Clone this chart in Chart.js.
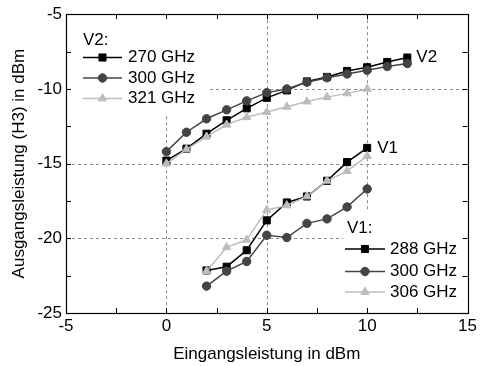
<!DOCTYPE html>
<html>
<head>
<meta charset="utf-8">
<script src="https://cdn.jsdelivr.net/npm/chart.js@4/dist/chart.umd.min.js"></script>
<style>
  html, body { margin: 0; padding: 0; background: #fff; }
  #wrap { width: 480px; height: 366px; }
</style>
</head>
<body>
<div id="wrap"><canvas id="c" width="480" height="366"></canvas></div>
<script>
// Input power (dBm) for each amplifier chain
const inputV2 = [0, 1, 2, 3, 4, 5, 6, 7, 8, 9, 10, 11, 12];
const inputV2_321 = [0, 1, 2, 3, 4, 5, 6, 7, 8, 9, 10];
const inputV1 = [2, 3, 4, 5, 6, 7, 8, 9, 10];

// Third-harmonic output power (dBm)
const v2_270 = [-14.8, -14.0, -13.0, -12.1, -11.3, -10.6, -10.1, -9.5, -9.2, -8.8, -8.55, -8.2, -7.9];
const v2_300 = [-14.2, -12.9, -12.0, -11.4, -10.8, -10.25, -10.0, -9.55, -9.25, -9.0, -8.75, -8.5, -8.3];
const v2_321 = [-15.0, -14.05, -13.2, -12.4, -11.9, -11.55, -11.2, -10.85, -10.55, -10.3, -10.0];
const v1_288 = [-22.15, -21.9, -20.8, -18.8, -17.6, -17.2, -16.15, -14.9, -13.95];
const v1_300 = [-23.2, -22.2, -21.55, -19.8, -19.95, -19.0, -18.7, -17.9, -16.7];
const v1_306 = [-22.2, -20.6, -20.1, -18.1, -17.8, -17.2, -16.15, -15.5, -14.5];

// Legend entries
const legendV2 = ['270 GHz', '300 GHz', '321 GHz'];
const legendV1 = ['288 GHz', '300 GHz', '306 GHz'];

const FONT = '"Liberation Sans", Arial, Helvetica, sans-serif';
const BLACK = '#000000';
const DARK = '#444444';
const LIGHT = '#bdbdbd';

const styles = [
  { color: BLACK, pointStyle: 'rect', radius: 5, order: 3 },
  { color: DARK, pointStyle: 'circle', radius: 4.2, order: 2 },
  { color: LIGHT, pointStyle: 'triangle', radius: 4.8, order: 1 }
];

function pts(xs, ys) { return xs.map((x, i) => ({ x: x, y: ys[i] })); }

function ds(label, xs, ys, st) {
  return {
    label: label,
    data: pts(xs, ys),
    borderColor: st.color,
    backgroundColor: st.color,
    pointBackgroundColor: st.color,
    pointBorderColor: st.color,
    pointBorderWidth: 1,
    pointStyle: st.pointStyle,
    pointRadius: st.radius,
    borderWidth: 1.5,
    order: st.order,
    tension: 0
  };
}

const datasets = [
  ds('V2 270 GHz', inputV2, v2_270, styles[0]),
  ds('V2 300 GHz', inputV2, v2_300, styles[1]),
  ds('V2 321 GHz', inputV2_321, v2_321, styles[2]),
  ds('V1 288 GHz', inputV1, v1_288, styles[0]),
  ds('V1 300 GHz', inputV1, v1_300, styles[1]),
  ds('V1 306 GHz', inputV1, v1_306, styles[2])
];

// Regions that the two legends occupy (white background over the grid)
const boxV2 = { x0: 66, y0: 13, x1: 207, y1: 113 };
const boxV1 = { x0: 343, y0: 210, x1: 470, y1: 313 };

function marker(ctx, st, x, y) {
  ctx.save();
  ctx.fillStyle = st.color;
  ctx.strokeStyle = st.color;
  ctx.lineWidth = 1;
  Chart.helpers.drawPoint(ctx, { pointStyle: st.pointStyle, radius: st.radius, borderWidth: 1 }, x, y);
  ctx.restore();
}

function drawLegend(ctx, title, names, tx, ty, lx0, lx1, rows, textX) {
  ctx.save();
  ctx.font = '17px ' + FONT;
  ctx.textBaseline = 'middle';
  ctx.textAlign = 'left';
  ctx.fillStyle = '#000';
  ctx.fillText(title, tx, ty);
  names.forEach((n, i) => {
    const st = styles[i];
    ctx.strokeStyle = st.color;
    ctx.lineWidth = 1.5;
    ctx.beginPath();
    ctx.moveTo(lx0, rows[i]);
    ctx.lineTo(lx1, rows[i]);
    ctx.stroke();
    marker(ctx, st, (lx0 + lx1) / 2, rows[i]);
    ctx.fillStyle = '#000';
    ctx.fillText(n, textX, rows[i]);
  });
  ctx.restore();
}

const frame = {
  id: 'frame',
  beforeDatasetsDraw(chart) {
    const { ctx, chartArea: a, scales: { x, y } } = chart;
    ctx.save();
    ctx.strokeStyle = '#8a8a8a';
    ctx.lineWidth = 1;
    ctx.setLineDash([3, 3]);
    [0, 5, 10].forEach(v => {
      const px = Math.round(x.getPixelForValue(v)) + 0.5;
      ctx.beginPath(); ctx.moveTo(px, a.top); ctx.lineTo(px, a.bottom); ctx.stroke();
    });
    [-10, -15, -20].forEach(v => {
      const py = Math.round(y.getPixelForValue(v)) + 0.5;
      ctx.beginPath(); ctx.moveTo(a.left, py); ctx.lineTo(a.right, py); ctx.stroke();
    });
    ctx.setLineDash([]);
    ctx.fillStyle = '#fff';
    [boxV2, boxV1].forEach(b => ctx.fillRect(b.x0, b.y0, b.x1 - b.x0, b.y1 - b.y0));
    ctx.restore();
  },
  afterDatasetsDraw(chart) {
    const { ctx, chartArea: a, scales: { x, y } } = chart;
    ctx.save();
    ctx.strokeStyle = '#000';
    ctx.lineWidth = 1.2;
    ctx.setLineDash([]);
    ctx.strokeRect(Math.round(a.left) + 0.5, Math.round(a.top) + 0.5,
      Math.round(a.right - a.left), Math.round(a.bottom - a.top));
    const tl = 5;
    ctx.lineWidth = 1;
    for (let v = -5; v <= 15; v += 2.5) {
      const px = Math.round(x.getPixelForValue(v)) + 0.5;
      ctx.beginPath();
      ctx.moveTo(px, a.bottom); ctx.lineTo(px, a.bottom - tl);
      ctx.moveTo(px, a.top); ctx.lineTo(px, a.top + tl);
      ctx.stroke();
    }
    for (let v = -25; v <= -5; v += 2.5) {
      const py = Math.round(y.getPixelForValue(v)) + 0.5;
      ctx.beginPath();
      ctx.moveTo(a.left, py); ctx.lineTo(a.left + tl, py);
      ctx.moveTo(a.right, py); ctx.lineTo(a.right - tl, py);
      ctx.stroke();
    }
    ctx.restore();

    drawLegend(ctx, 'V2:', legendV2, 83, 40, 83, 122, [57.5, 78, 98.5], 128);
    drawLegend(ctx, 'V1:', legendV1, 347, 228, 345, 385, [249, 271.5, 292], 390);

    // Curve group labels at the end of each family
    ctx.save();
    ctx.font = '17px ' + FONT;
    ctx.textBaseline = 'middle';
    ctx.textAlign = 'left';
    ctx.fillStyle = '#000';
    ctx.fillText('V2', x.getPixelForValue(12) + 9, y.getPixelForValue(v2_270[v2_270.length - 1]));
    ctx.fillText('V1', x.getPixelForValue(10) + 10, y.getPixelForValue(v1_288[v1_288.length - 1]));
    ctx.restore();
  }
};

new Chart(document.getElementById('c'), {
  type: 'line',
  data: { datasets: datasets },
  options: {
    responsive: false,
    animation: false,
    events: [],
    layout: { padding: { top: 13, right: 10, left: 0, bottom: 0 } },
    plugins: { legend: { display: false }, tooltip: { enabled: false } },
    scales: {
      x: {
        type: 'linear',
        min: -5, max: 15,
        grid: { display: false, drawTicks: false },
        border: { display: false },
        ticks: { stepSize: 5, padding: 3, color: '#000', font: { family: FONT, size: 17 }, maxRotation: 0 },
        title: { display: true, text: 'Eingangsleistung in dBm', color: '#000',
                 font: { family: FONT, size: 17 }, padding: { top: 0, bottom: 1 } },
        afterFit(s) { s.height = 53; }
      },
      y: {
        type: 'linear',
        min: -25, max: -5,
        grid: { display: false, drawTicks: false },
        border: { display: false },
        ticks: { stepSize: 5, padding: 4, color: '#000', font: { family: FONT, size: 17 } },
        title: { display: true, text: 'Ausgangsleistung (H3) in dBm', color: '#000',
                 font: { family: FONT, size: 17 }, padding: { top: 9, bottom: 0 } },
        afterFit(s) { s.width = 66; }
      }
    }
  },
  plugins: [frame]
});
</script>
</body>
</html>
